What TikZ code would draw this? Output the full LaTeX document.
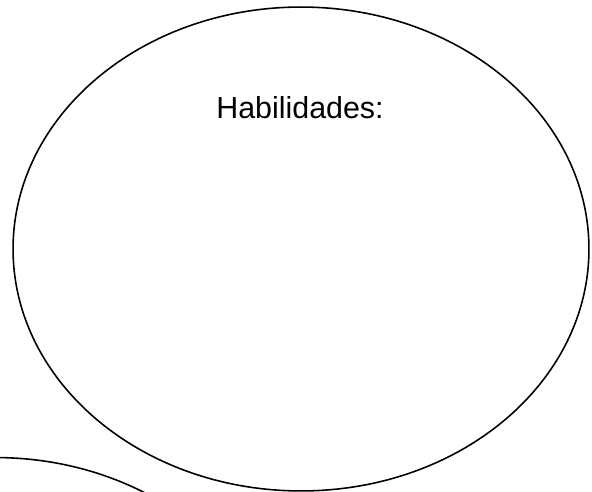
\documentclass[tikz,border=0pt]{standalone}
\usepackage{fontspec}
\setmainfont{Liberation Sans}
\usetikzlibrary{shapes.geometric,positioning}
\tikzset{
 burbuja/.style={draw=black,line width=0.9pt,ellipse,minimum width=11.52cm,minimum height=9.68cm,inner sep=0pt},
 rotulo/.style={anchor=base,font=\fontsize{17.3}{20}\selectfont}
}
\begin{document}
\begin{tikzpicture}[x=0.02cm,y=-0.02cm]
\useasboundingbox (0,0) rectangle (592,492);
\clip (0,0) rectangle (592,492);
\node[burbuja] (hab) at (301,249) {};
\node[burbuja] (otra) at (-5,699.5) {};
\node[rotulo] (titulo) at (300,119) {Habilidades:};
\end{tikzpicture}
\end{document}
